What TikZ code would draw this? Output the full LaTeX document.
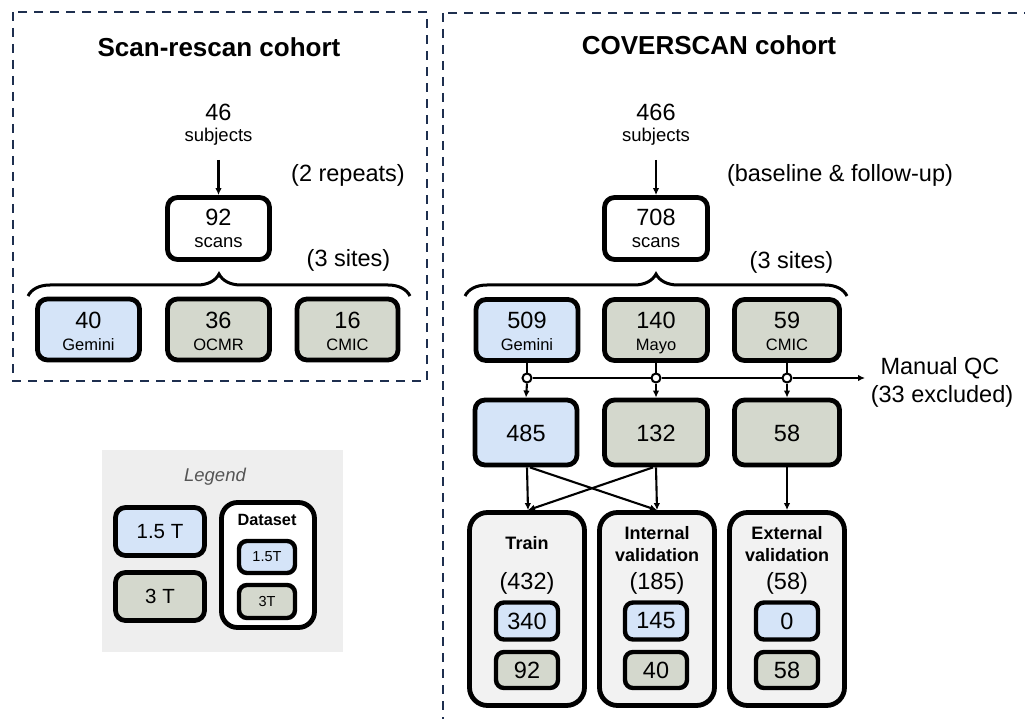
\documentclass[tikz,border=0pt]{standalone}
\usepackage{fontspec}
\setmainfont{Liberation Sans}
\usetikzlibrary{decorations.pathreplacing,arrows.meta}
\definecolor{lblue}{HTML}{D5E4F8}
\definecolor{lgray}{HTML}{D4D8CD}
\definecolor{dsfill}{HTML}{F2F2F2}
\definecolor{legbg}{HTML}{EEEEEE}
\definecolor{navy}{HTML}{1E2F4F}
\definecolor{leggray}{HTML}{555555}
\newcommand\fsz[1]{\fontsize{#1}{#1}\selectfont}
\begin{document}
\begin{tikzpicture}[x=1pt,y=-1pt,
  box/.style={draw, line width=4.8pt, rounded corners=10pt, inner sep=0pt},
  bbox/.style={box, fill=lblue},
  gbox/.style={box, fill=lgray},
  wbox/.style={box, fill=white},
  dsbox/.style={box, fill=dsfill, rounded corners=18pt},
  sbbox/.style={box, fill=lblue, rounded corners=8pt, line width=4.4pt},
  sgbox/.style={box, fill=lgray, rounded corners=8pt, line width=4.4pt},
  txt/.style={inner sep=0pt, align=center},
  num/.style={txt, font=\fsz{23.5}},
  sub/.style={txt, font=\fsz{16.5}},
  lab/.style={txt, font=\fsz{18.5}},
  big/.style={txt, font=\fsz{23.5}},
  ttl/.style={txt, font=\fsz{26}\bfseries},
  bld/.style={txt, font=\fsz{18}\bfseries},
  dashbox/.style={draw=navy, line width=2.8pt, dash pattern=on 9pt off 7pt},
  arr/.style={-{Latex[length=7pt,width=6.5pt]}, line width=2.1pt},
  ln/.style={line width=2.1pt},
  brc/.style={decorate, decoration={brace, amplitude=22pt}, line width=3pt},
  circ/.style={circle, draw, line width=2pt, fill=white, minimum size=9pt, inner sep=0pt}
]
\useasboundingbox (0,0) rectangle (1025,719);
\fill[white] (0,0) rectangle (1025,719);

% ---------- left panel ----------
\draw[dashbox] (13,12) rectangle (427,381);
\node[ttl] (t1) at (219,47) {Scan-rescan cohort};
\node[big] (n46) at (218.5,112) {46};
\node[lab] (subj1) at (218.5,137) {subjects};
\coordinate (a1) at (218.5,160);
\node[wbox, minimum width=102pt, minimum height=62pt] (s1) at (218.5,228.5) {};
\node[num] at (218.5,217) {92};
\node[lab] at (218.5,243) {scans};
\draw[arr] (a1) -- (s1.north);
\node[big] (rep) at (348,175) {(2 repeats)};
\node[big] (sites1) at (348.5,260) {(3 sites)};
\coordinate (b1a) at (28,296);
\coordinate (b1b) at (410,296);
\draw[brc] (b1a) -- (b1b);

\node[bbox, minimum width=102pt, minimum height=61pt] (l1) at (88.5,329.5) {};
\node[num] at (88.5,320) {40};
\node[sub] at (88.5,345) {Gemini};
\node[gbox, minimum width=102pt, minimum height=61pt] (l2) at (218.5,329.5) {};
\node[num] at (218.5,320) {36};
\node[sub] at (218.5,345) {OCMR};
\node[gbox, minimum width=101pt, minimum height=61pt] (l3) at (347.5,329.5) {};
\node[num] at (347.5,320) {16};
\node[sub] at (347.5,345) {CMIC};

% ---------- legend ----------
\fill[legbg] (102,450) rectangle (343,652);
\node[txt, font=\fsz{18.5}\itshape, text=leggray] (leg) at (215,477) {Legend};
\node[bbox, minimum width=89pt, minimum height=48pt] (lg1) at (160,531.5) {};
\node[txt, font=\fsz{20.5}] at (160,531.5) {1.5 T};
\node[gbox, minimum width=89pt, minimum height=48pt] (lg2) at (160,596.5) {};
\node[txt, font=\fsz{20.5}] at (160,596.5) {3 T};
\node[box, fill=white, rounded corners=16pt, minimum width=93pt, minimum height=125pt] (lg3) at (268,565) {};
\node[txt, font=\fsz{16.3}\bfseries] at (267,520) {Dataset};
\node[sbbox, minimum width=56pt, minimum height=32pt] (lg4) at (267,557) {};
\node[txt, font=\fsz{14.5}] at (267,557) {1.5T};
\node[sgbox, minimum width=56pt, minimum height=33pt] (lg5) at (267,601.5) {};
\node[txt, font=\fsz{14.5}] at (267,601.5) {3T};

% ---------- right panel ----------
\draw[dashbox] (443,13) rectangle (1035,740);
\node[ttl] (t2) at (709,45) {COVERSCAN cohort};
\node[big] (n466) at (656,112) {466};
\node[lab] (subj2) at (656,137) {subjects};
\coordinate (a2) at (656,160);
\node[wbox, minimum width=103pt, minimum height=62pt] (s2) at (656,228.5) {};
\node[num] at (656,217) {708};
\node[lab] at (656,243) {scans};
\draw[arr] (a2) -- (s2.north);
\node[big] (base) at (840,175) {(baseline \& follow-up)};
\node[big] (sites2) at (791.5,262) {(3 sites)};
\coordinate (b2a) at (465,296);
\coordinate (b2b) at (847,296);
\draw[brc] (b2a) -- (b2b);

\node[bbox, minimum width=102pt, minimum height=61pt] (r1) at (527,330) {};
\node[num] at (527,320) {509};
\node[sub] at (527,345) {Gemini};
\node[gbox, minimum width=103pt, minimum height=61pt] (r2) at (656,330) {};
\node[num] at (656,320) {140};
\node[sub] at (656,347) {Mayo};
\node[gbox, minimum width=105pt, minimum height=61pt] (r3) at (787,330) {};
\node[num] at (787,320) {59};
\node[sub] at (787,345) {CMIC};

% QC
\node[circ] (c1) at (527,378) {};
\node[circ] (c2) at (656,378) {};
\node[circ] (c3) at (787,378) {};
\coordinate (qc) at (865,378);
\draw[ln] (r1.south) -- (c1.north);
\draw[ln] (r2.south) -- (c2.north);
\draw[ln] (r3.south) -- (c3.north);
\draw[ln] (c1.east) -- (c2.west);
\draw[ln] (c2.east) -- (c3.west);
\draw[arr] (c3.east) -- (qc);
\node[big] (mqc) at (940,368) {Manual QC};
\node[big] (exc) at (942,396) {(33 excluded)};

\node[bbox, minimum width=102pt, minimum height=65pt] (m1) at (526,432.5) {};
\node[num] at (526,433) {485};
\node[gbox, minimum width=103pt, minimum height=65pt] (m2) at (656,432.5) {};
\node[num] at (656,433) {132};
\node[gbox, minimum width=105pt, minimum height=65pt] (m3) at (787,432.5) {};
\node[num] at (787,433) {58};
\draw[arr] (c1.south) -- (m1.north);
\draw[arr] (c2.south) -- (m2.north);
\draw[arr] (c3.south) -- (m3.north);

% datasets
\node[dsbox, minimum width=115pt, minimum height=193pt] (d1) at (527,609) {};
\node[dsbox, minimum width=115pt, minimum height=193pt] (d2) at (657,609) {};
\node[dsbox, minimum width=115pt, minimum height=193pt] (d3) at (787,609) {};
\draw[arr] ([xshift=1pt]m1.south) -- ([xshift=1pt]d1.north);
\draw[arr] ([xshift=4pt]m1.south) -- ([xshift=0pt]d2.north);
\draw[arr] ([xshift=-3pt]m2.south) -- ([xshift=1pt]d1.north);
\draw[arr] (m2.south) -- (d2.north);
\draw[arr] (m3.south) -- (d3.north);

\node[bld] at (527,543) {Train};
\node[bld] at (657,533) {Internal};
\node[bld] at (657,555) {validation};
\node[bld] at (787,533) {External};
\node[bld] at (787,555) {validation};
\node[big] at (527,583) {(432)};
\node[big] at (657,583) {(185)};
\node[big] at (787,583) {(58)};

\node[sbbox, minimum width=62pt, minimum height=37pt] (i1) at (527,621) {};
\node[num] at (527,621) {340};
\node[sgbox, minimum width=62pt, minimum height=36pt] (i2) at (527,670) {};
\node[num] at (527,670) {92};
\node[sbbox, minimum width=62pt, minimum height=37pt] (i3) at (656,621) {};
\node[num] at (656,621) {145};
\node[sgbox, minimum width=62pt, minimum height=36pt] (i4) at (656,670) {};
\node[num] at (656,670) {40};
\node[sbbox, minimum width=62pt, minimum height=37pt] (i5) at (787,621) {};
\node[num] at (787,621) {0};
\node[sgbox, minimum width=62pt, minimum height=36pt] (i6) at (787,670) {};
\node[num] at (787,670) {58};
\end{tikzpicture}
\end{document}
